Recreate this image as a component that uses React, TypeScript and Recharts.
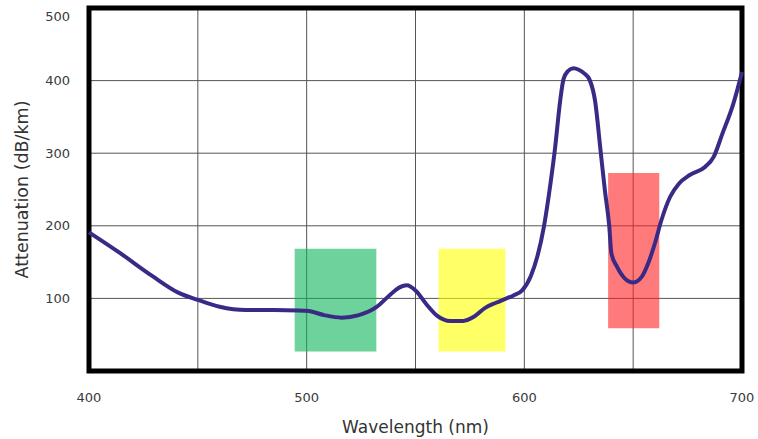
import React from 'react';
import { LineChart, Line, XAxis, YAxis, CartesianGrid, ReferenceArea } from 'recharts';

const wavelengths = [
  400, 414, 429, 441, 450, 460, 472, 485, 496, 501, 508, 516, 524, 532, 538, 542, 546, 550, 555,
  560, 566, 572, 577, 582, 587, 591, 595, 599, 603, 606, 609, 612, 614, 616.5, 618, 620, 622.6, 625,
  627.5, 630, 632.5, 635, 637, 639, 640, 642.5, 646, 650, 654, 657, 660, 663, 667, 671, 676, 683, 687,
  691, 696, 700,
];
const attenuation = [
  191, 163, 131, 108, 98, 88.5, 84, 84, 83.5, 82.5, 77, 73.5, 77, 88, 104, 114, 118, 111, 92,
  76, 69, 69, 75, 87, 94, 99, 104, 111, 131, 158, 199, 258, 304, 373, 402, 413, 417, 415,
  410, 401, 372, 304, 249, 200, 162, 144, 128, 122, 130, 149, 176, 208, 240, 258, 270, 281, 295,
  327, 368, 412,
];

const xTicks = [400, 450, 500, 550, 600, 650, 700];
const xLabelTicks = [400, 500, 600, 700];
const yTicks = [0, 100, 200, 300, 400, 500];
const yLabelTicks = [100, 200, 300, 400, 500];

const bands = [
  { name: 'green', x1: 494.5, x2: 532, y1: 27, y2: 168.5, color: '#0cb458' },
  { name: 'yellow', x1: 560.6, x2: 591.3, y1: 27, y2: 168.5, color: '#ffff00' },
  { name: 'red', x1: 638.5, x2: 662, y1: 59, y2: 272.6, color: '#ff2121' },
];

const data = wavelengths.map((w, i) => ({ w, a: attenuation[i] }));

const FONT = '"DejaVu Sans", sans-serif';

const YTick = (props: any) => {
  const { x, y, payload } = props;
  const v = payload.value;
  if (!yLabelTicks.includes(v)) return <g />;
  const shift = v === 500 ? 8 : 0;
  return (
    <text x={x} y={y + shift} dy="0.355em" textAnchor="end" fill="#3a3a3a" fontSize={13} fontFamily={FONT}>
      {v}
    </text>
  );
};

export default function App() {
  return (
    <div style={{ position: 'absolute', left: 0, top: 0, width: 758, height: 439, background: '#fff' }}>
      <LineChart width={758} height={439} data={data} margin={{ top: 8, right: 16, bottom: 0, left: 9 }}>
        <CartesianGrid stroke="#555" strokeWidth={1} />
        <XAxis
          dataKey="w"
          type="number"
          domain={[400, 700]}
          ticks={xTicks}
          height={68}
          axisLine={false}
          tickLine={false}
          tickSize={0}
          tickMargin={22}
          interval={0}
          tickFormatter={(v: number) => (xLabelTicks.includes(v) ? String(v) : '')}
          tick={{ fill: '#3a3a3a', fontSize: 13, fontFamily: FONT }}
          label={{
            value: 'Wavelength (nm)',
            position: 'insideBottom',
            offset: 6,
            fill: '#333',
            fontSize: 17,
            fontFamily: FONT,
          }}
        />
        <YAxis
          type="number"
          domain={[0, 500]}
          ticks={yTicks}
          width={80}
          axisLine={false}
          tickLine={false}
          tickSize={0}
          tickMargin={19}
          interval={0}
          tick={<YTick />}
          label={{
            value: 'Attenuation (dB/km)',
            angle: -90,
            position: 'insideLeft',
            offset: 13,
            fill: '#333',
            fontSize: 17.5,
            fontFamily: FONT,
            style: { textAnchor: 'middle' },
          }}
        />
        <Line
          type="monotone"
          dataKey="a"
          stroke="#3b2a85"
          strokeWidth={4}
          dot={false}
          isAnimationActive={false}
        />
        {bands.map((b) => (
          <ReferenceArea
            key={b.name}
            x1={b.x1}
            x2={b.x2}
            y1={b.y1}
            y2={b.y2}
            fill={b.color}
            fillOpacity={0.6}
            stroke="none"
          />
        ))}
        <ReferenceArea
          x1={400}
          x2={700}
          y1={0}
          y2={500}
          fill="none"
          fillOpacity={0}
          stroke="#000"
          strokeWidth={5}
          ifOverflow="visible"
        />
      </LineChart>
    </div>
  );
}
